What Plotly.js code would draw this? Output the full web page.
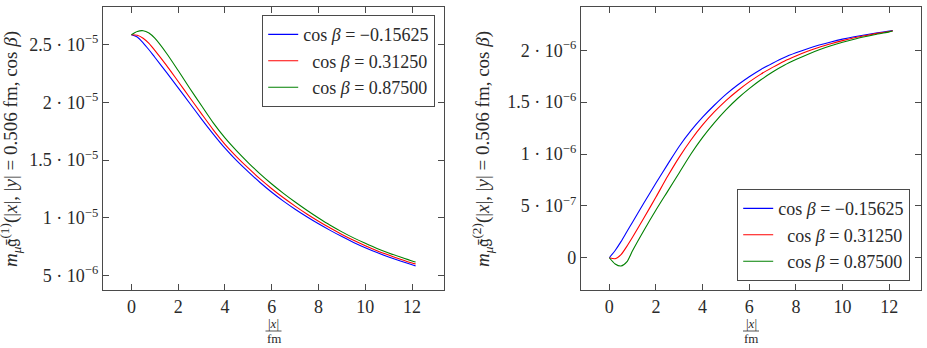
<!DOCTYPE html>
<html>
<head>
<meta charset="utf-8">
<script src="https://cdn.plot.ly/plotly-3.0.1.min.js"></script>
<style>
  html, body { margin: 0; padding: 0; background: #fff; }
  #chart { width: 927px; height: 348px; }
</style>
</head>
<body>
<div id="chart"></div>
<script>
// Distance |x| in fm (shared sampling for all curves)
const xFm = [0, 0.25, 0.5, 0.75, 1, 1.5, 2, 2.5, 3, 3.5, 4, 4.5, 5, 5.5, 6, 6.5, 7, 7.5, 8, 8.5, 9, 9.5, 10, 10.5, 11, 11.5, 12, 12.15];

// Legend labels, one per value of cos beta
const seriesNames = [
  'cos <i>β</i> = −0.15625',
  '\u2002cos <i>β</i> = 0.31250',
  '\u2002cos <i>β</i> = 0.87500'
];
const seriesColors = ['#0000ff', '#ff0000', '#008000'];

// Left panel: m_mu g^(1)(|x|, |y| = 0.506 fm, cos beta), in units of 1e-5
const g1Neg015625 = [2.585, 2.565, 2.515, 2.455, 2.39, 2.26, 2.125, 1.99, 1.855, 1.725, 1.603, 1.495, 1.398, 1.306, 1.222, 1.145, 1.075, 1.010, 0.949, 0.892, 0.838, 0.788, 0.742, 0.700, 0.662, 0.627, 0.594, 0.585];
const g1Pos031250 = [2.585, 2.58, 2.555, 2.51, 2.45, 2.32, 2.18, 2.04, 1.90, 1.762, 1.637, 1.529, 1.430, 1.337, 1.252, 1.174, 1.102, 1.034, 0.971, 0.912, 0.857, 0.806, 0.759, 0.716, 0.678, 0.643, 0.610, 0.602];
const g1Pos087500 = [2.585, 2.613, 2.62, 2.60, 2.555, 2.425, 2.275, 2.12, 1.97, 1.822, 1.692, 1.580, 1.477, 1.381, 1.293, 1.212, 1.137, 1.066, 0.999, 0.936, 0.879, 0.827, 0.780, 0.736, 0.697, 0.661, 0.627, 0.619];

// Right panel: m_mu g-bar^(2)(|x|, |y| = 0.506 fm, cos beta), in units of 1e-6
const g2Neg015625 = [0, 0.07, 0.155, 0.25, 0.345, 0.535, 0.72, 0.90, 1.075, 1.225, 1.355, 1.47, 1.575, 1.665, 1.745, 1.815, 1.875, 1.93, 1.975, 2.015, 2.05, 2.08, 2.107, 2.13, 2.15, 2.168, 2.185, 2.19];
const g2Pos031250 = [0, -0.01, 0.03, 0.11, 0.20, 0.39, 0.585, 0.785, 0.97, 1.135, 1.28, 1.405, 1.515, 1.61, 1.695, 1.77, 1.835, 1.895, 1.945, 1.99, 2.03, 2.063, 2.093, 2.12, 2.142, 2.163, 2.181, 2.187];
const g2Pos087500 = [0, -0.06, -0.08, -0.04, 0.07, 0.27, 0.46, 0.64, 0.82, 1.0, 1.16, 1.30, 1.425, 1.535, 1.63, 1.715, 1.79, 1.855, 1.91, 1.96, 2.005, 2.043, 2.077, 2.107, 2.133, 2.157, 2.177, 2.185];

const leftUnit = 1e-5, rightUnit = 1e-6;

// Tick positions and labels
const xTickVals = [0, 2, 4, 6, 8, 10, 12];
const leftTickVals = [5e-6, 1e-5, 1.5e-5, 2e-5, 2.5e-5];
const leftTickText = ['5 · 10<sup>−6</sup>', '1 · 10<sup>−5</sup>', '1.5 · 10<sup>−5</sup>', '2 · 10<sup>−5</sup>', '2.5 · 10<sup>−5</sup>'];
const rightTickVals = [0, 5e-7, 1e-6, 1.5e-6, 2e-6];
const rightTickText = ['0', '5 · 10<sup>−7</sup>', '1 · 10<sup>−6</sup>', '1.5 · 10<sup>−6</sup>', '2 · 10<sup>−6</sup>'];

// ---- page geometry ----
const W = 927, H = 348;
const M = { l: 103, r: 6, t: 7, b: 58 };
const plotW = W - M.l - M.r, plotH = H - M.t - M.b;
const px2x = p => (p - M.l) / plotW;          // canvas px -> paper x
const py2y = p => (H - M.b - p) / plotH;      // canvas px -> paper y

const FONT = 'Liberation Serif, serif';
const INK = '#2a2a2a';
const FRAME = '#4a4a4a';

const leftSets = [g1Neg015625, g1Pos031250, g1Pos087500];
const rightSets = [g2Neg015625, g2Pos031250, g2Pos087500];

const traces = [];
leftSets.forEach((ys, i) => traces.push({
  x: xFm, y: ys.map(v => v * leftUnit), xaxis: 'x', yaxis: 'y', type: 'scatter', mode: 'lines',
  name: seriesNames[i], legend: 'legend',
  line: { color: seriesColors[i], width: 1.1, shape: 'spline', smoothing: 0.7 }
}));
rightSets.forEach((ys, i) => traces.push({
  x: xFm, y: ys.map(v => v * rightUnit), xaxis: 'x2', yaxis: 'y2', type: 'scatter', mode: 'lines',
  name: seriesNames[i], legend: 'legend2',
  line: { color: seriesColors[i], width: 1.1, shape: 'spline', smoothing: 0.7 }
}));

const axisCommon = {
  showgrid: false, zeroline: false, showline: true, mirror: 'ticks',
  linecolor: FRAME, linewidth: 1.2, ticks: 'inside', ticklen: 6,
  tickcolor: FRAME, tickwidth: 1, tickfont: { family: FONT, size: 18, color: INK },
  tickmode: 'array', fixedrange: true
};

const legendCommon = {
  bgcolor: '#ffffff', bordercolor: FRAME, borderwidth: 1.2,
  font: { family: FONT, size: 18, color: INK }, tracegroupgap: 0, itemwidth: 30
};

const layout = {
  width: W, height: H, margin: M,
  font: { family: FONT, color: INK },
  paper_bgcolor: '#ffffff', plot_bgcolor: '#ffffff',
  showlegend: true,
  xaxis: Object.assign({}, axisCommon, { domain: [0, px2x(444)], range: [-1.215, 13.365], tickvals: xTickVals, anchor: 'y' }),
  yaxis: Object.assign({}, axisCommon, { range: [3.76e-6, 2.825e-5], tickvals: leftTickVals, ticktext: leftTickText, anchor: 'x' }),
  xaxis2: Object.assign({}, axisCommon, { domain: [px2x(581), 1], range: [-1.215, 13.365], tickvals: xTickVals, anchor: 'y2' }),
  yaxis2: Object.assign({}, axisCommon, { range: [-3.11e-7, 2.417e-6], tickvals: rightTickVals, ticktext: rightTickText, anchor: 'x2' }),
  legend: Object.assign({}, legendCommon, { x: px2x(435), y: py2y(15), xanchor: 'right', yanchor: 'top' }),
  legend2: Object.assign({}, legendCommon, { x: px2x(910), y: py2y(281), xanchor: 'right', yanchor: 'bottom' }),
  annotations: [],
  shapes: []
};

// y-axis titles (rotated)
const yTitles = [
  { cx: 10, text: '<i>m<sub>μ</sub></i>𝔤̄<sup>(1)</sup>(|<i>x</i>|, |<i>y</i>| = 0.506 fm, cos <i>β</i>)' },
  { cx: 482, text: '<i>m<sub>μ</sub></i>𝔤̄<sup>(2)</sup>(|<i>x</i>|, |<i>y</i>| = 0.506 fm, cos <i>β</i>)' }
];
yTitles.forEach(t => layout.annotations.push({
  xref: 'paper', yref: 'paper', x: px2x(t.cx), y: py2y(149), xanchor: 'center', yanchor: 'middle',
  text: t.text, textangle: -90, showarrow: false, font: { family: FONT, size: 19, color: INK }
}));

// x-axis titles: the fraction |x| / fm under each panel
[273.5, 751].forEach(cx => {
  layout.annotations.push({
    xref: 'paper', yref: 'paper', x: px2x(cx), y: py2y(323), xanchor: 'center', yanchor: 'middle',
    text: '|<i>x</i>|', showarrow: false, font: { family: FONT, size: 13, color: INK }
  });
  layout.annotations.push({
    xref: 'paper', yref: 'paper', x: px2x(cx), y: py2y(339), xanchor: 'center', yanchor: 'middle',
    text: 'fm', showarrow: false, font: { family: FONT, size: 13, color: INK }
  });
  layout.shapes.push({
    type: 'line', xref: 'paper', yref: 'paper',
    x0: px2x(cx - 8), x1: px2x(cx + 8), y0: py2y(331), y1: py2y(331),
    line: { color: INK, width: 0.8 }
  });
});

Plotly.newPlot('chart', traces, layout, { staticPlot: true, displayModeBar: false });
</script>
</body>
</html>
